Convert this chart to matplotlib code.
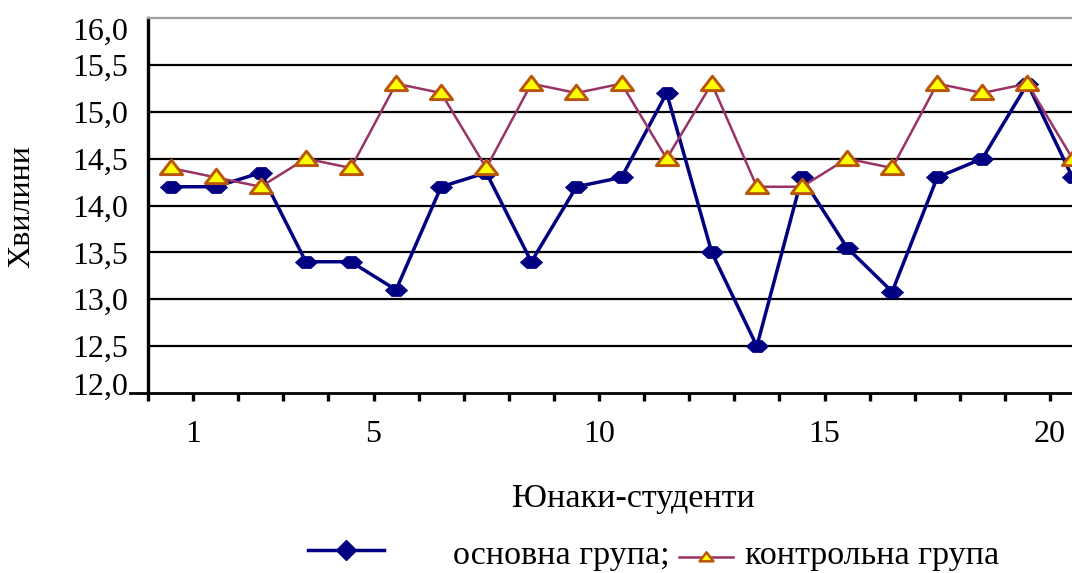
import matplotlib
matplotlib.use("Agg")
import matplotlib.pyplot as plt
import matplotlib.transforms as mtransforms
from matplotlib.path import Path
from matplotlib.lines import Line2D

# Data: time (minutes) for each student
students = list(range(1, 22))
main_group = [14.2, 14.2, 14.35, 13.4, 13.4, 13.1, 14.2, 14.35, 13.4, 14.2, 14.3,
              15.2, 13.5, 12.5, 14.3, 13.55, 13.08, 14.3, 14.5, 15.3, 14.3]
control_group = [14.4, 14.3, 14.2, 14.5, 14.4, 15.3, 15.2, 14.4, 15.3, 15.2, 15.3,
                 14.5, 15.3, 14.2, 14.2, 14.5, 14.4, 15.3, 15.2, 15.3, 14.5]
x_tick_labels = ["1", "5", "10", "15", "20"]
x_tick_label_pos = [1, 5, 10, 15, 20]
y_ticks = [12.0, 12.5, 13.0, 13.5, 14.0, 14.5, 15.0, 15.5, 16.0]

W, H = 1072, 573
DPI = 100
FONT = "Liberation Serif"
NAVY = "#000080"
PLUM = "#993366"
YELLOW = "#FFFF00"
ORANGE = "#B8560E"
TICK_FS = 23
LABEL_FS = 24.5

plt.rcParams["font.family"] = [FONT, "DejaVu Serif"]

fig = plt.figure(figsize=(W / DPI, H / DPI), dpi=DPI)


def px(x, y):
    """Pixel (from top-left) to figure fraction."""
    return x / W, 1 - y / H


left, right, top, bottom = 148, 1072, 18, 393
ax = fig.add_axes([left / W, 1 - bottom / H, (right - left) / W, (bottom - top) / H])

# Flattened diamond (hexagon-like) and squat triangle markers
diamond = Path([(-1, 0), (-0.4, 0.55), (0.4, 0.55), (1, 0), (0.4, -0.55),
                (-0.4, -0.55), (-1, 0)], closed=True)
triangle = Path([(-1, -0.55), (1, -0.55), (0, 0.75), (-1, -0.55)], closed=True)

xs = [s - 0.5 for s in students]
ax.plot(xs, main_group, color=NAVY, lw=2.5, marker=diamond, ms=16,
        mfc=NAVY, mec=NAVY, mew=0.5, zorder=3)
ax.plot(xs, control_group, color=PLUM, lw=1.8, marker=triangle, ms=16,
        mfc=YELLOW, mec=ORANGE, mew=2.1, zorder=4)

ax.set_ylim(12.0, 16.0)
ax.set_xlim(0, (right - left) / 45.1)
ax.set_yticks(y_ticks)
ax.set_yticklabels([])
ax.set_xticks(range(0, 21))
ax.set_xticklabels(["" if i not in x_tick_label_pos else x_tick_labels[x_tick_label_pos.index(i)]
                    for i in range(0, 21)])

# Value labels, the end ones nudged inward to stay clear of the frame
ylab_trans = mtransforms.blended_transform_factory(ax.transAxes, ax.transData)
for v in y_ticks:
    dy = 0.0
    if v == y_ticks[-1]:
        dy = -11
    elif v == y_ticks[0]:
        dy = 9
    off = mtransforms.ScaledTranslation(-20 / DPI, dy / DPI, fig.dpi_scale_trans)
    ax.text(0, v, f"{v:.1f}".replace(".", ","), transform=ylab_trans + off,
            ha="right", va="center_baseline", fontsize=TICK_FS)

# Horizontal grid lines
for v in y_ticks[1:-1]:
    ax.axhline(v, color="black", lw=1.6, zorder=1)

ax.spines["right"].set_visible(False)
ax.spines["top"].set_color("#A0A0A0")
ax.spines["top"].set_linewidth(1.6)
ax.spines["left"].set_linewidth(2.4)
ax.spines["bottom"].set_linewidth(2.0)

ax.tick_params(axis="y", length=0)
ax.tick_params(axis="x", direction="out", length=5.5, width=2.4, pad=14, labelsize=TICK_FS)

# Short extension of the base line left of the value axis
ax.add_line(Line2D([-(left - 130) / (right - left), 0], [0, 0], transform=ax.transAxes,
                   color="black", lw=2.0, clip_on=False))

fig.text(*px(22, 207), "Хвилини", rotation=90, ha="center", va="center", fontsize=23)
fig.text(*px(633, 507), "Юнаки-студенти", ha="center", va="baseline", fontsize=LABEL_FS)

# Legend
fig.add_artist(Line2D([px(308, 0)[0], px(384, 0)[0]], [px(0, 550)[1]] * 2,
                      transform=fig.transFigure, color=NAVY, lw=2.5))
fig.add_artist(Line2D([px(346, 0)[0]], [px(0, 550)[1]], transform=fig.transFigure,
                      marker="D", ms=10, color=NAVY, mec=NAVY))
fig.text(*px(453, 564), "основна група;", ha="left", va="baseline", fontsize=LABEL_FS)
fig.add_artist(Line2D([px(679, 0)[0], px(733, 0)[0]], [px(0, 557)[1]] * 2,
                      transform=fig.transFigure, color=PLUM, lw=1.8))
fig.add_artist(Line2D([px(706, 0)[0]], [px(0, 557)[1]], transform=fig.transFigure,
                      marker=triangle, ms=10, mfc=YELLOW, mec=ORANGE, mew=1.8))
fig.text(*px(745, 564), "контрольна група", ha="left", va="baseline", fontsize=LABEL_FS)

fig.savefig("out.png", dpi=DPI)
